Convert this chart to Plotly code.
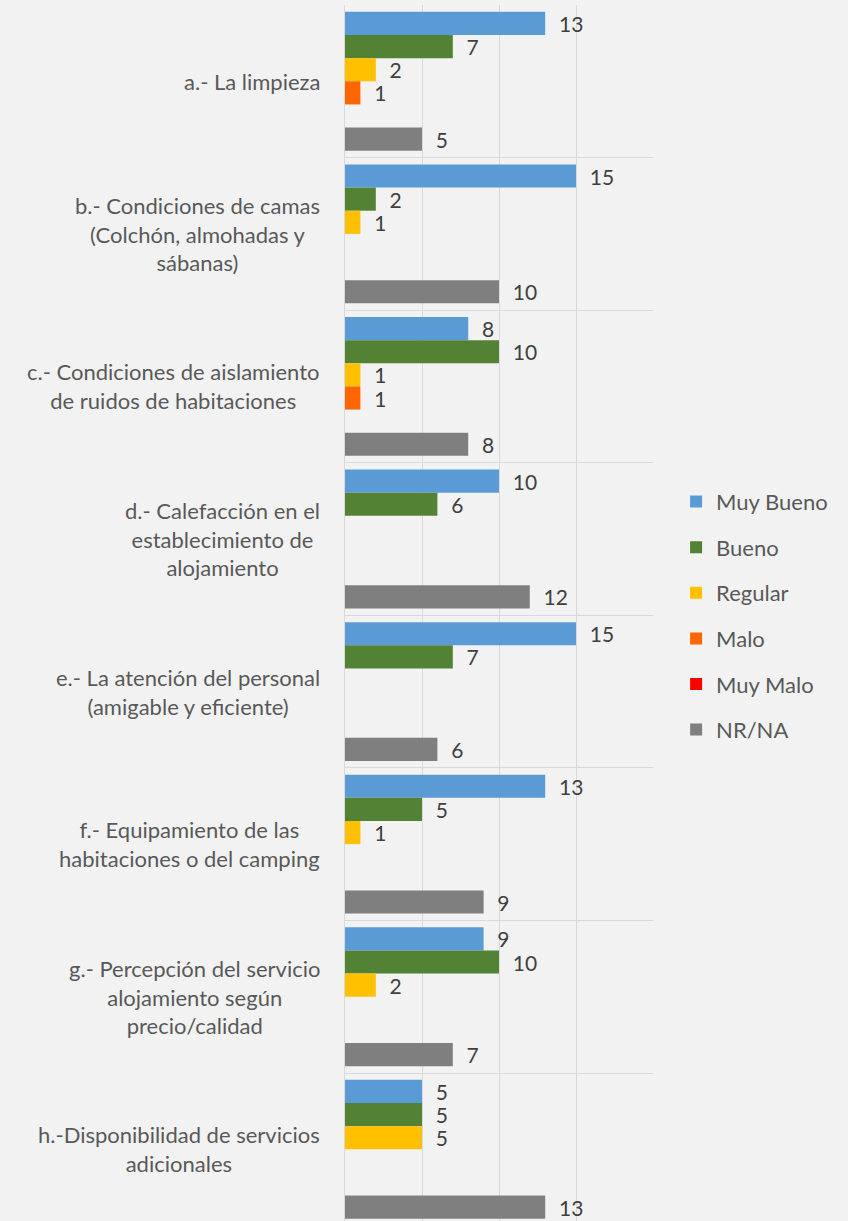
import plotly.graph_objects as go

categories = [
    "a.- La limpieza",
    "b.- Condiciones de camas<br>(Colchón, almohadas y<br>sábanas)",
    "c.- Condiciones de aislamiento<br>de ruidos de habitaciones",
    "d.- Calefacción en el<br>establecimiento de<br>alojamiento",
    "e.- La atención del personal<br>(amigable y eficiente)",
    "f.- Equipamiento de las<br>habitaciones o del camping",
    "g.- Percepción del servicio<br>alojamiento según<br>precio/calidad",
    "h.-Disponibilidad de servicios<br>adicionales",
]
series_names = ["Muy Bueno", "Bueno", "Regular", "Malo", "Muy Malo", "NR/NA"]
muy_bueno = [13, 15, 8, 10, 15, 13, 9, 5]
bueno = [7, 2, 10, 6, 7, 5, 10, 5]
regular = [2, 1, 1, 0, 0, 1, 2, 5]
malo = [1, 0, 1, 0, 0, 0, 0, 0]
muy_malo = [0, 0, 0, 0, 0, 0, 0, 0]
nr_na = [5, 10, 8, 12, 6, 9, 7, 13]
series_values = [muy_bueno, bueno, regular, malo, muy_malo, nr_na]
colors = ["#5b9bd5", "#548235", "#ffc000", "#ff6600", "#ff0000", "#7f7f7f"]

FONT = "Lato"
BG = "#f2f2f2"
GRID = "#d9d9d9"
FS = 22

fig = go.Figure()
for name, vals, col in zip(series_names, series_values, colors):
    fig.add_trace(go.Bar(
        name=name,
        y=categories,
        x=vals,
        orientation="h",
        marker=dict(color=col, line=dict(width=0)),
        text=["\u00a0\u00a0" + str(v) if v else "" for v in vals],
        textposition="outside",
        textfont=dict(family=FONT, size=21, color="#404040"),
        constraintext="none",
        cliponaxis=False,
        legendgroup=name,
    ))

for cat in categories:
    fig.add_annotation(
        x=0, xref="x", y=cat, yref="y",
        text=cat, showarrow=False,
        xanchor="right", yanchor="middle", align="center",
        xshift=-23,
        font=dict(family=FONT, size=FS, color="#595959"),
    )

fig.update_layout(
    width=848, height=1221,
    margin=dict(l=345, r=195, t=5, b=0, pad=0),
    paper_bgcolor=BG, plot_bgcolor=BG,
    barmode="group", bargap=0.09, bargroupgap=0,
    font=dict(family=FONT, size=FS, color="#595959"),
    showlegend=True,
    legend=dict(
        x=1.075, xanchor="left", xref="paper",
        y=0.6087, yanchor="top", yref="paper",
        traceorder="grouped", tracegroupgap=14,
        font=dict(family=FONT, size=FS, color="#595959"),
        bgcolor="rgba(0,0,0,0)",
    ),
    xaxis=dict(
        range=[0, 20], dtick=5, showgrid=True, gridcolor=GRID, gridwidth=1,
        showticklabels=False, zeroline=False, showline=False, ticks="",
        fixedrange=True,
    ),
    yaxis=dict(
        type="category", categoryorder="array", categoryarray=categories,
        range=[7.47, -0.5], autorange=False,
        tickson="boundaries", showgrid=True, gridcolor=GRID, gridwidth=1,
        showticklabels=False, ticks="", showline=True, linecolor=GRID,
        zeroline=False, fixedrange=True,
    ),
)

fig.write_html(
    "out.html",
    config={"displayModeBar": False},
    post_script="document.body.style.margin='0';document.body.style.background='#f2f2f2';",
)
